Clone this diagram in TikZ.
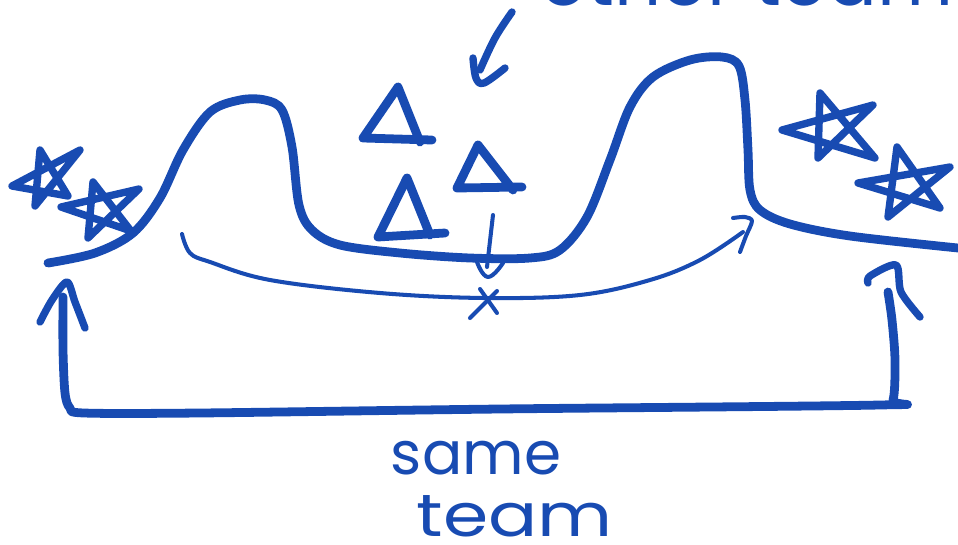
\documentclass[tikz,border=0pt]{standalone}
\usepackage{fontspec}
\newfontfamily\hand{Poppins}
\definecolor{ink}{RGB}{24,75,178}
\tikzset{
  thick line/.style={draw=ink, line width=5pt, line cap=round, line join=round},
  mid line/.style={draw=ink, line width=4.2pt, line cap=round, line join=round},
  thin line/.style={draw=ink, line width=2.3pt, line cap=round, line join=round},
  star line/.style={draw=ink, line width=4.2pt, line cap=round, line join=round},
  label text/.style={text=ink, font=\hand, inner sep=0pt}
}
\begin{document}
\begin{tikzpicture}[x=0.02cm, y=-0.02cm]
\useasboundingbox (0,0) rectangle (958,545);
\clip (0,0) rectangle (958,545);

% terrain
\draw[thick line] plot[smooth, tension=0.55] coordinates {
 (48,263) (95,253) (133,233) (160,198) (183,150) (210,112) (240,100) (265,100)
 (282,110) (292,147) (299,205) (312,230) (340,245) (400,253) (470,258) (530,258)
 (560,250) (587,217) (610,160) (630,107) (653,77) (690,60) (722,57) (739,66)
 (745,100) (748,150) (750,190) (760,210) (790,224) (850,236) (958,248)};

% thin arrow under the valley
\draw[thin line] plot[smooth, tension=0.6] coordinates {
 (182,234) (190,253) (210,262) (270,280) (380,293) (485,298) (580,295)
 (650,280) (700,260) (743,232)};
\draw[thin line] plot[smooth, tension=0.5] coordinates {(733,218) (745,217) (752,221) (746,236) (740,252)};

% small arrow to the valley floor
\draw[thin line] (493,215) -- (487,267);
\draw[thin line] plot[smooth, tension=0.8] coordinates {(477,262) (488,277) (503,263)};
\draw[thin line] (480,289) -- (497,313);
\draw[thin line] (497,291) -- (470,318);

% bracket arrow
\draw[thick line] plot[smooth, tension=0.5] coordinates {
 (63,297) (63,350) (65,393) (70,408) (84,413) (200,413) (500,409) (880,405)
 (893,400) (895,360) (892,320) (888,292)};
\draw[mid line] plot[smooth, tension=0.5] coordinates {(40,322) (52,300) (67,282) (75,302) (85,328)};
\draw[mid line] plot[smooth, tension=0.5] coordinates {(868,283) (870,276) (896,265) (901,292) (920,317)};

% top arrow
\draw[mid line] plot[smooth, tension=0.6] coordinates {(512,12) (495,38) (480,70)};
\draw[mid line] plot[smooth, tension=0.6] coordinates {(473,58) (476,78) (484,83) (505,68)};

% triangles
\draw[thick line] (432,140) -- (363,138) -- (398,87) -- (420,142);
\draw[thick line] (522,187) -- (457,188) -- (478,145) -- (513,190);
\draw[thick line] (445,233) -- (378,237) -- (407,178) -- (430,235);

% stars (left)
\draw[star line] (40,150) -- (68,196) -- (12,186) -- (80,150) -- (35,206) -- cycle;
\draw[star line] (93,182) -- (131,231) -- (61,207) -- (139,189) -- (88,238) -- cycle;
% stars (right)
\draw[star line] (820,93) -- (875,158) -- (782,130) -- (873,105) -- (818,158) -- cycle;
\draw[star line] (897,147) -- (940,208) -- (858,183) -- (950,167) -- (888,217) -- cycle;

% labels
\node[label text, anchor=base west, font=\hand\fontsize{42}{42}\selectfont] (other) at (540,5) {other team};
\node[label text, anchor=base, font=\hand\fontsize{34}{34}\selectfont] (same) at (476,474) {same};
\node[label text, anchor=base, font=\hand\fontsize{34}{34}\selectfont] (team) at (515,536) {\scalebox{1.22}[1]{team}};
\end{tikzpicture}
\end{document}
